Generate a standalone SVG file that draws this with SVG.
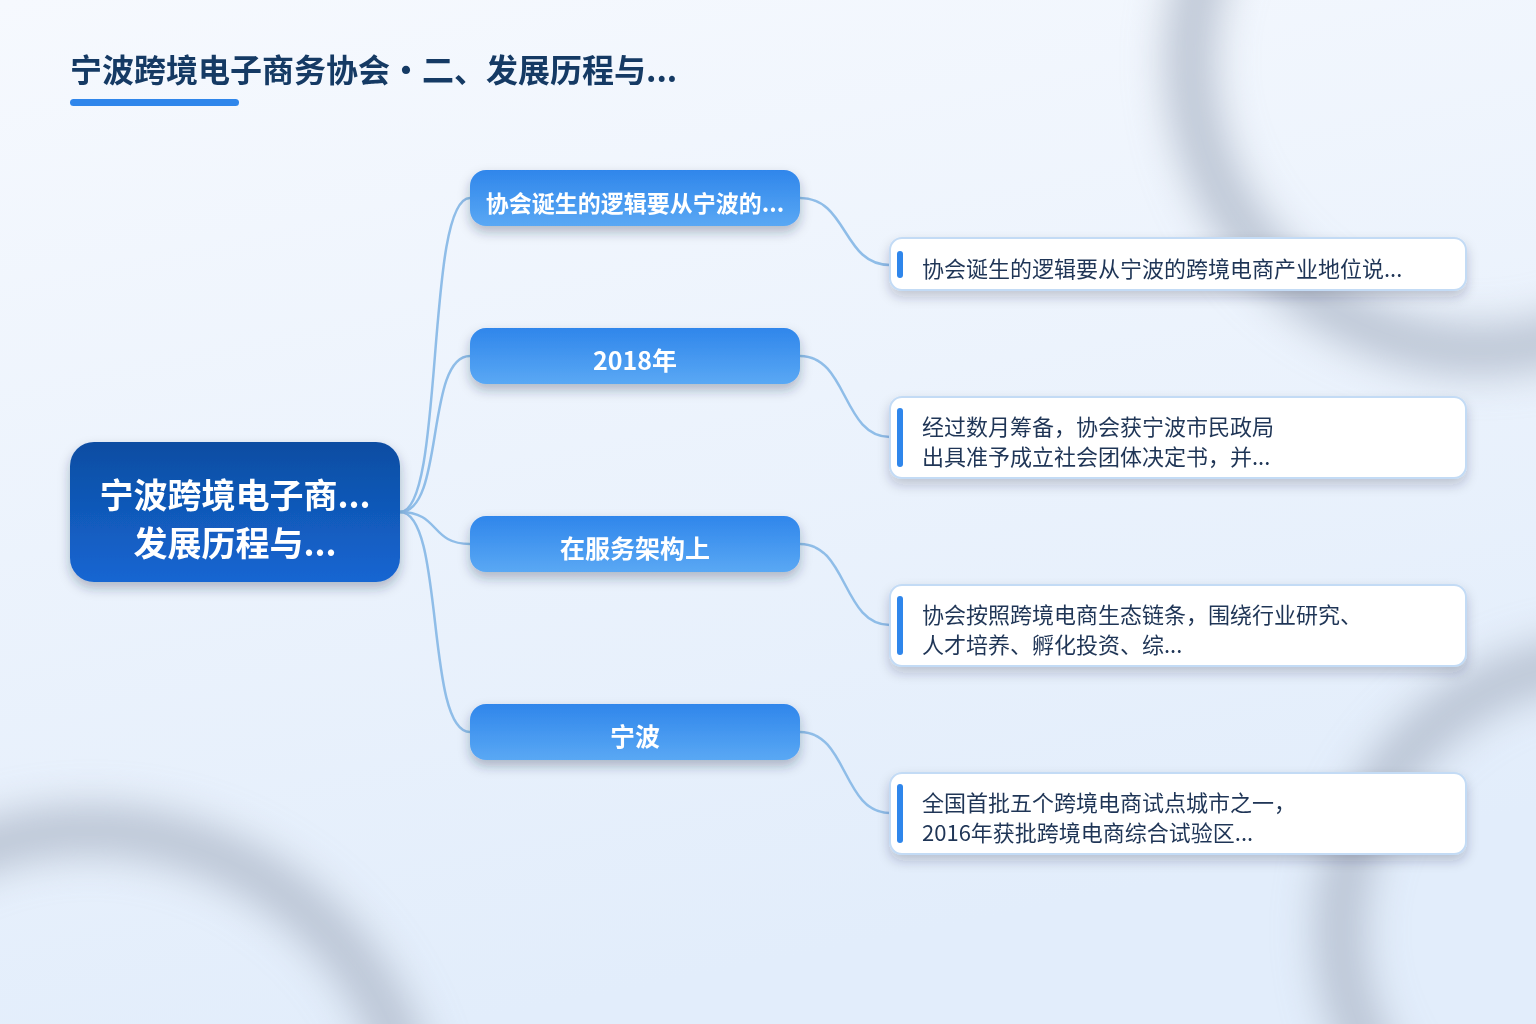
<svg xmlns="http://www.w3.org/2000/svg" width="1536" height="1024" viewBox="0 0 1536 1024">
<defs>
<linearGradient id="bg" x1="0" y1="0" x2="0.3" y2="1">
<stop offset="0" stop-color="#f6f9fe"/>
<stop offset="1" stop-color="#e2edfb"/>
</linearGradient>
<linearGradient id="rootG" x1="0" y1="0" x2="0" y2="1">
<stop offset="0" stop-color="#0d4da2"/>
<stop offset="1" stop-color="#1566d2"/>
</linearGradient>
<linearGradient id="brG" x1="0" y1="0" x2="0" y2="1">
<stop offset="0" stop-color="#2f86eb"/>
<stop offset="1" stop-color="#5aa8f4"/>
</linearGradient>
<filter id="blur" x="-50%" y="-50%" width="200%" height="200%">
<feGaussianBlur stdDeviation="20"/>
</filter>
<filter id="sh" x="-10%" y="-30%" width="120%" height="170%">
<feDropShadow dx="0" dy="6" stdDeviation="6" flood-color="#1b2a44" flood-opacity="0.3"/>
</filter>
<filter id="shl" x="-10%" y="-30%" width="120%" height="170%">
<feDropShadow dx="0" dy="6" stdDeviation="6" flood-color="#1b2a44" flood-opacity="0.22"/>
</filter>
</defs>
<style>
.t{font-family:"Noto Sans CJK SC","Noto Sans",sans-serif;}
.title{font-size:32px;font-weight:700;fill:#153a64;}
.rootT{font-size:34px;font-weight:700;fill:#ffffff;}
.brT{font-size:25px;font-weight:700;fill:#ffffff;}
.lfT{font-size:22px;font-weight:400;fill:#1f3556;}
.con{fill:none;stroke:#8fbde8;stroke-width:2.5;}
.leaf{fill:#ffffff;stroke:#c3dbf5;stroke-width:2;}
.bar{fill:#2f86eb;}
.ring{fill:none;stroke:#b3bdcc;stroke-width:46;opacity:0.9;}
</style>
<rect x="0" y="0" width="1536" height="1024" fill="url(#bg)"/>
<g id="background-rings" filter="url(#blur)">
<circle class="ring" cx="1480" cy="60" r="290"/>
<circle class="ring" cx="90" cy="1160" r="330"/>
<circle class="ring" cx="1610" cy="930" r="270"/>
</g>
<g id="title">
<text class="t title" x="70" y="82">宁波跨境电子商务协会・二、发展历程与...</text>
<rect x="70" y="99" width="169" height="7" rx="3.5" fill="#2f86eb"/>
</g>
<g id="connectors">
<path class="con" d="M400,512 C445,512 425,198 470,198"/>
<path class="con" d="M400,512 C445,512 425,356 470,356"/>
<path class="con" d="M400,512 C440,512 430,544 470,544"/>
<path class="con" d="M400,512 C445,512 425,732 470,732"/>
<path class="con" d="M800,198 C848,198 842,265 890,265"/>
<path class="con" d="M800,356 C848,356 842,437 890,437"/>
<path class="con" d="M800,544 C848,544 842,625 890,625"/>
<path class="con" d="M800,732 C848,732 842,813 890,813"/>
</g>
<g id="root">
<rect x="70" y="442" width="330" height="140" rx="24" fill="url(#rootG)" filter="url(#sh)"/>
<text class="t rootT" x="235" y="508" text-anchor="middle">宁波跨境电子商...</text>
<text class="t rootT" x="235" y="556" text-anchor="middle">发展历程与...</text>
</g>
<g id="branch1">
<rect x="470" y="170" width="330" height="56" rx="16" fill="url(#brG)" filter="url(#sh)"/>
<text class="t brT" x="635" y="212" text-anchor="middle" style="font-size:23px">协会诞生的逻辑要从宁波的...</text>
</g>
<g id="branch2">
<rect x="470" y="328" width="330" height="56" rx="16" fill="url(#brG)" filter="url(#sh)"/>
<text class="t brT" x="635" y="370" text-anchor="middle">2018年</text>
</g>
<g id="branch3">
<rect x="470" y="516" width="330" height="56" rx="16" fill="url(#brG)" filter="url(#sh)"/>
<text class="t brT" x="635" y="558" text-anchor="middle">在服务架构上</text>
</g>
<g id="branch4">
<rect x="470" y="704" width="330" height="56" rx="16" fill="url(#brG)" filter="url(#sh)"/>
<text class="t brT" x="635" y="746" text-anchor="middle">宁波</text>
</g>
<g id="leaf1">
<rect class="leaf" x="890" y="238" width="576" height="52" rx="12" filter="url(#shl)"/>
<rect class="bar" x="897" y="251" width="6" height="27" rx="3"/>
<text class="t lfT" x="922" y="277">协会诞生的逻辑要从宁波的跨境电商产业地位说...</text>
</g>
<g id="leaf2">
<rect class="leaf" x="890" y="397" width="576" height="81" rx="12" filter="url(#shl)"/>
<rect class="bar" x="897" y="408" width="6" height="59" rx="3"/>
<text class="t lfT" x="922" y="435">经过数月筹备，协会获宁波市民政局</text>
<text class="t lfT" x="922" y="465">出具准予成立社会团体决定书，并...</text>
</g>
<g id="leaf3">
<rect class="leaf" x="890" y="585" width="576" height="81" rx="12" filter="url(#shl)"/>
<rect class="bar" x="897" y="596" width="6" height="59" rx="3"/>
<text class="t lfT" x="922" y="623">协会按照跨境电商生态链条，围绕行业研究、</text>
<text class="t lfT" x="922" y="653">人才培养、孵化投资、综...</text>
</g>
<g id="leaf4">
<rect class="leaf" x="890" y="773" width="576" height="81" rx="12" filter="url(#shl)"/>
<rect class="bar" x="897" y="784" width="6" height="59" rx="3"/>
<text class="t lfT" x="922" y="811">全国首批五个跨境电商试点城市之一，</text>
<text class="t lfT" x="922" y="841">2016年获批跨境电商综合试验区...</text>
</g>
</svg>
